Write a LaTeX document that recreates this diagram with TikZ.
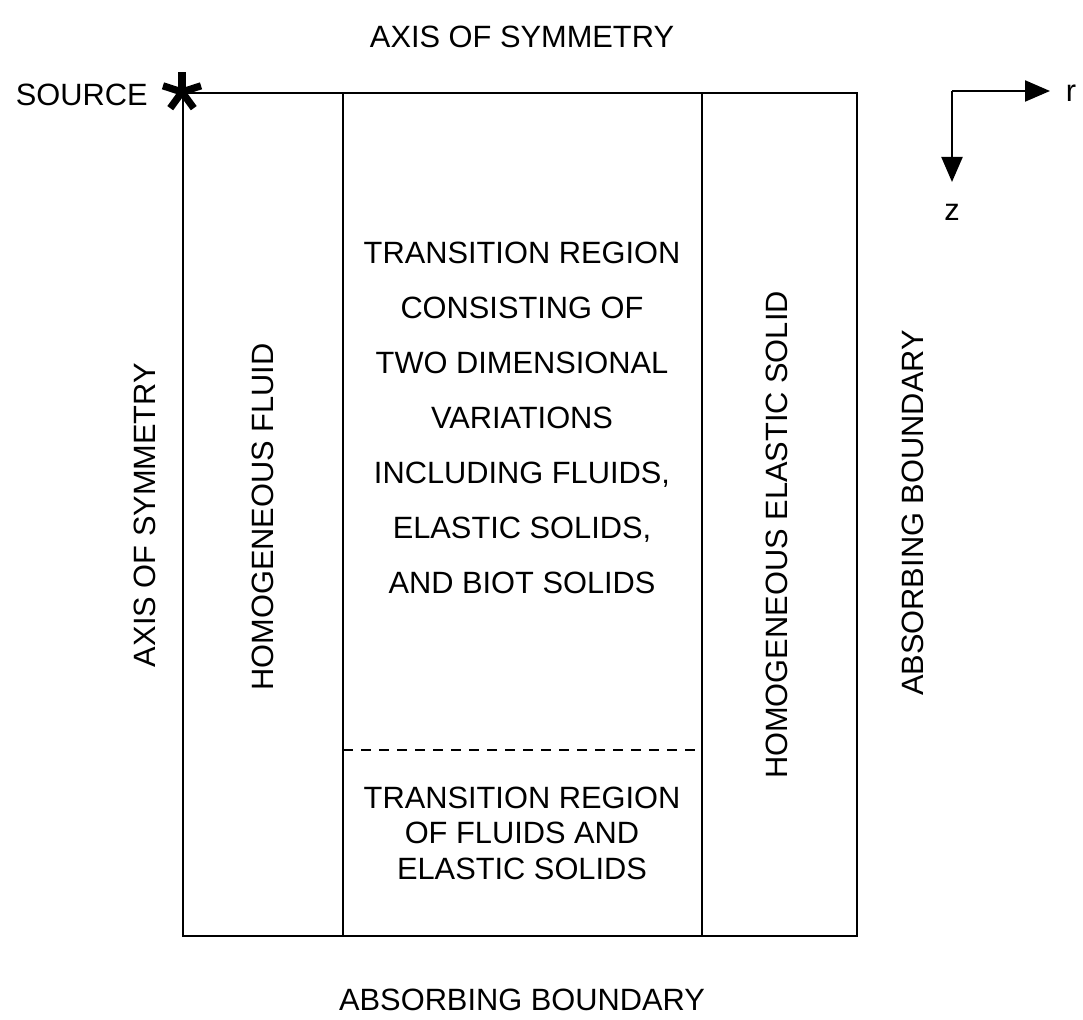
\documentclass[tikz,border=0pt]{standalone}
\usepackage{fontspec}
\setmainfont{Liberation Sans}
\usetikzlibrary{arrows.meta}
\begin{document}
\begin{tikzpicture}[x=0.5pt,y=-0.5pt,
  lbl/.style={font=\fontsize{15.4}{17.75}\selectfont, inner sep=0pt, align=center},
  vlbl/.style={lbl, rotate=90},
  frame/.style={line width=1.1pt},
  arr/.style={line width=1.1pt, -{Triangle[length=12.5pt,width=10.5pt]}},
  starline/.style={line width=3.6pt, line cap=butt}]
\useasboundingbox (0,0) rectangle (1083,1020);
% frame
\coordinate (tl) at (183,93);
\coordinate (br) at (857,936);
\coordinate (a1) at (343,93);
\coordinate (a2) at (343,936);
\coordinate (b1) at (702,93);
\coordinate (b2) at (702,936);
\coordinate (d1) at (343,750);
\coordinate (d2) at (702,750);
\draw[frame] (tl) rectangle (br);
\draw[frame] (a1) -- (a2);
\draw[frame] (b1) -- (b2);
\draw[line width=1.1pt, dash pattern=on 5pt off 4pt] (d1) -- (d2);
% source star (arms point up, sideways-up, and down-left/down-right on screen)
\node (src) at (182,92) {};
\foreach \a in {-90,-18,-162,54,126} \draw[starline] (src.center) -- ++(\a:20);
% labels
\node[lbl] (top) at (522,37) {AXIS OF SYMMETRY};
\node[lbl, anchor=east] (source) at (148,95) {SOURCE};
\node[lbl] (bottom) at (522,1000) {ABSORBING BOUNDARY};
\node[vlbl] (axisl) at (145,515) {AXIS OF SYMMETRY};
\node[vlbl] (fluid) at (263,517) {HOMOGENEOUS FLUID};
\node[vlbl] (solid) at (777,535) {HOMOGENEOUS ELASTIC SOLID};
\node[vlbl] (absr) at (913,513) {ABSORBING BOUNDARY};
\node[lbl, font=\fontsize{15.4}{27.5}\selectfont] (trans) at (522,418) {TRANSITION REGION\\CONSISTING OF\\TWO DIMENSIONAL\\VARIATIONS\\INCLUDING FLUIDS,\\ELASTIC SOLIDS,\\AND BIOT SOLIDS};
\node[lbl] (trans2) at (522,833) {TRANSITION REGION\\OF FLUIDS AND\\ELASTIC SOLIDS};
% axes
\coordinate (o) at (952,91);
\node[lbl] (r) at (1071,93) {r};
\node[lbl] (z) at (952,212) {z};
\draw[arr] (o) -- (1050,91);
\draw[arr] (o) -- (952,182);
\end{tikzpicture}
\end{document}
